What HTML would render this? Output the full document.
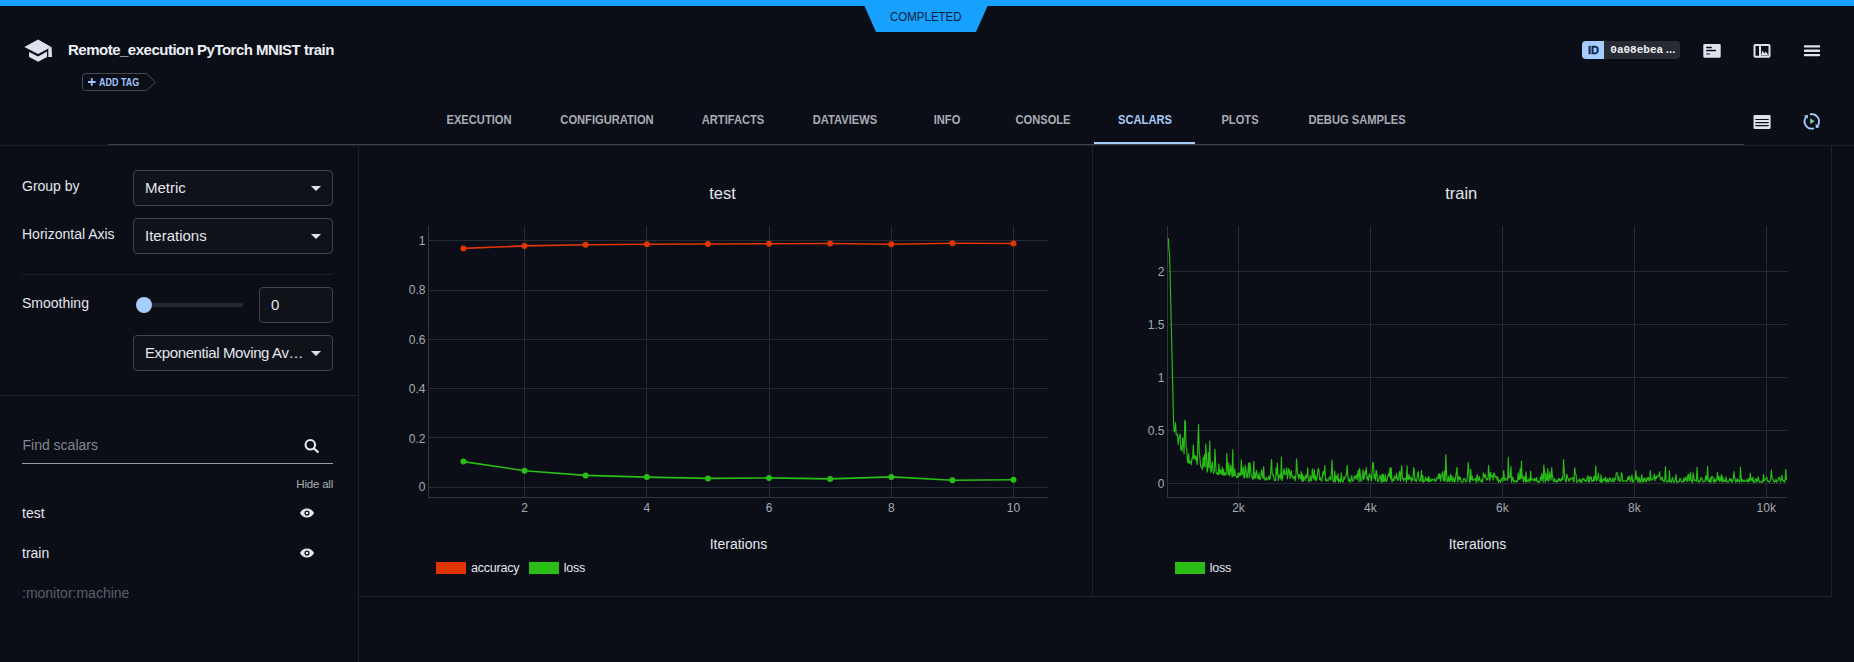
<!DOCTYPE html>
<html><head><meta charset="utf-8">
<style>
html,body{margin:0;padding:0;}
body{width:1854px;height:662px;overflow:hidden;background:#0b0e16;position:relative;font-family:"Liberation Sans",sans-serif;}
.abs{position:absolute;}
.t{position:absolute;white-space:nowrap;line-height:1.15;}
.tab{font-size:12.6px;font-weight:bold;text-align:center;line-height:14px;transform:scaleX(0.885);}
.dd{border:1px solid #41444d;border-radius:4px;background:#0f1219;}
.ylab{width:60px;text-align:right;font-size:12px;color:#a7aab3;line-height:14px;}
.xlab{width:60px;text-align:center;font-size:12px;color:#a7aab3;line-height:14px;}
</style></head><body>
<svg class="abs" style="left:0;top:0" width="1854" height="40">
<rect x="0" y="0" width="1854" height="6" fill="#16a1ff"/>
<polygon points="864,5 988,5 976,32 876,32" fill="#16a1ff"/>
</svg>
<div class="t" style="left:889.8px;top:9.6px;font-size:12.6px;font-weight:normal;color:#0e2036;transform:scaleX(0.913);transform-origin:0 0">COMPLETED</div>
<svg class="abs" style="left:0;top:0" width="60" height="70">
<polygon points="24.3,47.1 38.1,39.4 51.3,46.9 38.1,54.1" fill="#dfe1ec"/>
<polygon points="48.3,48.6 51.6,46.8 52,56.9 48.3,56.9" fill="#dfe1ec"/>
<polygon points="29.1,51.9 38.1,56.4 47,51.6 47,56.9 38.1,61.8 29.1,56.9" fill="#dfe1ec"/>
</svg>
<div class="t" style="left:68px;top:41.2px;font-size:15px;font-weight:bold;color:#eceef4;letter-spacing:-0.5px">Remote_execution PyTorch MNIST train</div>
<svg class="abs" style="left:0;top:0" width="200" height="100">
<path d="M85.5,73.5 H146.5 L155.5,82.2 L146.5,90.5 H85.5 Q82.5,90.5 82.5,87.5 V76.5 Q82.5,73.5 85.5,73.5 Z" fill="none" stroke="#464952" stroke-width="1"/>
<path d="M91.8,78.3 V85.8 M88,82 H95.6" stroke="#9fc3ff" stroke-width="1.8"/>
</svg>
<div class="t" style="left:98.9px;top:77px;font-size:10px;font-weight:bold;color:#9fc3ff;transform:scaleX(0.9);transform-origin:left">ADD TAG</div>
<div class="abs" style="left:1582px;top:41px;width:98px;height:18px;background:#282b34;border-radius:4px"></div>
<div class="abs" style="left:1582px;top:41px;width:22px;height:18px;background:#a6cdff;border-radius:4px 0 0 4px"></div>
<div class="t" style="left:1588px;top:43.9px;font-size:11px;font-weight:bold;color:#0b2a4d;-webkit-text-stroke:0.35px #0b2a4d">ID</div>
<div class="t" style="left:1610.3px;top:44.2px;font-size:11px;font-weight:bold;color:#eef0f5;font-family:'Liberation Mono',monospace">0a08ebea<span style='letter-spacing:-3.4px;margin-left:1px'>...</span></div>
<svg class="abs" style="left:1690px;top:30px" width="164" height="110">
<g transform="translate(-1690,-30)">
<rect x="1703.3" y="44" width="17.4" height="13.7" rx="1.1" fill="#dfe1ec"/>
<path d="M1706.8,47.4 H1711.2 M1706.8,50.6 H1715.4" stroke="#0b0e16" stroke-width="1.5" stroke-linecap="round"/><path d="M1706.8,54 H1709.4" stroke="#3f5d74" stroke-width="1.5" stroke-linecap="round"/>
<rect x="1754.5" y="45" width="15" height="11.7" rx="0.8" fill="none" stroke="#dfe1ec" stroke-width="2"/>
<rect x="1759" y="45" width="2" height="12" fill="#dfe1ec"/>
<path d="M1761,55.4 L1762.5,50.5 L1764.3,53.5 L1765.7,51.5 L1768.5,55.4 Z" fill="#dfe1ec"/>
<path d="M1805,46.4 H1819 M1805,50.8 H1819 M1805,55.1 H1819" stroke="#dfe1ec" stroke-width="2.4" stroke-linecap="round"/>
<rect x="1753.5" y="114.9" width="17.1" height="14" rx="1.1" fill="#dfe1ec"/>
<path d="M1755.4,119.5 H1768.7 M1755.4,122.6 H1768.7 M1755.4,125.7 H1768.7" stroke="#0b0e16" stroke-width="1.2"/>
<path d="M1809.82,114.48 A7.2,7.2 0 0 1 1817.70,125.53" fill="none" stroke="#a6cdff" stroke-width="1.8"/>
<path d="M1814.02,128.25 A7.2,7.2 0 0 1 1805.90,117.27" fill="none" stroke="#a6cdff" stroke-width="1.8"/>
<polygon points="1819.83,127.02 1815.57,124.04 1815.86,128.15" fill="#a6cdff"/>
<polygon points="1803.77,115.78 1808.03,118.76 1807.74,114.65" fill="#a6cdff"/>
<polygon points="1810.2,118.3 1814.7,121.2 1810.2,124.1" fill="#68d9b4"/>
</g>
</svg>
<div class="t tab" style="left:379.3px;top:112.5px;width:200px;color:#a9acb4">EXECUTION</div>
<div class="t tab" style="left:506.79999999999995px;top:112.5px;width:200px;color:#a9acb4">CONFIGURATION</div>
<div class="t tab" style="left:633.2px;top:112.5px;width:200px;color:#a9acb4">ARTIFACTS</div>
<div class="t tab" style="left:745px;top:112.5px;width:200px;color:#a9acb4">DATAVIEWS</div>
<div class="t tab" style="left:846.7px;top:112.5px;width:200px;color:#a9acb4">INFO</div>
<div class="t tab" style="left:942.9000000000001px;top:112.5px;width:200px;color:#a9acb4">CONSOLE</div>
<div class="t tab" style="left:1044.6px;top:112.5px;width:200px;color:#a6cdfb">SCALARS</div>
<div class="t tab" style="left:1140.2px;top:112.5px;width:200px;color:#a9acb4">PLOTS</div>
<div class="t tab" style="left:1257.3px;top:112.5px;width:200px;color:#a9acb4">DEBUG SAMPLES</div>
<div class="abs" style="left:108px;top:144px;width:1636px;height:1px;background:#3d404a"></div>
<div class="abs" style="left:1094px;top:142px;width:101px;height:2px;background:#a6cdfb"></div>
<div class="abs" style="left:0;top:145px;width:1854px;height:1px;background:#1e2129"></div>
<div class="abs" style="left:358px;top:146px;width:1px;height:516px;background:#1e2129"></div>
<div class="abs" style="left:1092px;top:146px;width:1px;height:450px;background:#1e2129"></div>
<div class="abs" style="left:1831px;top:146px;width:1px;height:450px;background:#1e2129"></div>
<div class="abs" style="left:359px;top:596px;width:1473px;height:1px;background:#1e2129"></div>
<div class="abs" style="left:22px;top:274px;width:311px;height:1px;background:#1e2129"></div>
<div class="abs" style="left:0;top:395px;width:358px;height:1px;background:#1e2129"></div>
<div class="t" style="left:22px;top:178px;font-size:14px;font-weight:normal;color:#e4e6ee;">Group by</div>
<div class="t" style="left:22px;top:226px;font-size:14px;font-weight:normal;color:#e4e6ee;">Horizontal Axis</div>
<div class="t" style="left:22px;top:295px;font-size:14px;font-weight:normal;color:#e4e6ee;">Smoothing</div>
<div class="abs dd" style="left:133px;top:170px;width:198px;height:34px"></div><div class="t" style="left:145px;top:179px;font-size:15px;font-weight:normal;color:#e4e6ee;">Metric</div><svg class="abs" style="left:310px;top:185px" width="12" height="8"><polygon points="1,1 11,1 6,6" fill="#dfe1ec"/></svg>
<div class="abs dd" style="left:133px;top:218px;width:198px;height:34px"></div><div class="t" style="left:145px;top:227px;font-size:15px;font-weight:normal;color:#e4e6ee;">Iterations</div><svg class="abs" style="left:310px;top:233px" width="12" height="8"><polygon points="1,1 11,1 6,6" fill="#dfe1ec"/></svg>
<div class="abs dd" style="left:133px;top:335px;width:198px;height:34px"></div><div class="t" style="left:145px;top:344px;font-size:15px;font-weight:normal;color:#e4e6ee;letter-spacing:-0.38px">Exponential Moving Av…</div><svg class="abs" style="left:310px;top:350px" width="12" height="8"><polygon points="1,1 11,1 6,6" fill="#dfe1ec"/></svg>
<div class="abs" style="left:144px;top:303px;width:99px;height:4px;background:#262932;border-radius:2px"></div>
<div class="abs" style="left:136px;top:297px;width:16px;height:16px;background:#a6cdff;border-radius:50%"></div>
<div class="abs dd" style="left:259px;top:287px;width:72px;height:34px"></div>
<div class="t" style="left:271px;top:296px;font-size:15px;font-weight:normal;color:#e4e6ee;">0</div>
<div class="t" style="left:22.5px;top:437.2px;font-size:14px;font-weight:normal;color:#82858e;">Find scalars</div>
<div class="abs" style="left:22px;top:463px;width:311px;height:1px;background:#9a9da6"></div>
<svg class="abs" style="left:300px;top:436px" width="22" height="22">
<circle cx="10.3" cy="8.8" r="4.75" fill="none" stroke="#e8eaf0" stroke-width="2.1"/>
<path d="M14,12.5 L17.8,15.9" stroke="#e8eaf0" stroke-width="2.2" stroke-linecap="round"/>
</svg>
<div class="t" style="left:296.3px;top:477.8px;font-size:11.5px;font-weight:normal;color:#a9acb4;letter-spacing:-0.2px">Hide all</div>
<div class="t" style="left:22px;top:505px;font-size:14px;font-weight:normal;color:#e4e6ee;">test</div>
<div class="t" style="left:22px;top:545px;font-size:14px;font-weight:normal;color:#e4e6ee;">train</div>
<div class="t" style="left:22px;top:585px;font-size:14px;font-weight:normal;color:#5c5f68;">:monitor:machine</div>
<svg class="abs" style="left:298px;top:506px" width="18" height="14">
<g transform="translate(1.37,-0.2) scale(0.636,0.6)"><path d="M12 4.5C7 4.5 2.73 7.61 1 12c1.73 4.39 6 7.5 11 7.5s9.27-3.11 11-7.5c-1.73-4.39-6-7.5-11-7.5z" fill="#e4e6ee"/></g>
<circle cx="9" cy="7" r="2.55" fill="#0b0e16"/><circle cx="9" cy="7" r="1.25" fill="#eef0f5"/>
</svg>
<svg class="abs" style="left:298px;top:546px" width="18" height="14">
<g transform="translate(1.37,-0.2) scale(0.636,0.6)"><path d="M12 4.5C7 4.5 2.73 7.61 1 12c1.73 4.39 6 7.5 11 7.5s9.27-3.11 11-7.5c-1.73-4.39-6-7.5-11-7.5z" fill="#e4e6ee"/></g>
<circle cx="9" cy="7" r="2.55" fill="#0b0e16"/><circle cx="9" cy="7" r="1.25" fill="#eef0f5"/>
</svg>
<svg class="abs" style="left:0;top:0" width="1100" height="600">
<line x1="428" x2="1048" y1="487.5" y2="487.5" stroke="#262a33" stroke-width="1"/>
<line x1="428" x2="1048" y1="437.5" y2="437.5" stroke="#262a33" stroke-width="1"/>
<line x1="428" x2="1048" y1="388.5" y2="388.5" stroke="#262a33" stroke-width="1"/>
<line x1="428" x2="1048" y1="339.5" y2="339.5" stroke="#262a33" stroke-width="1"/>
<line x1="428" x2="1048" y1="290.5" y2="290.5" stroke="#262a33" stroke-width="1"/>
<line x1="428" x2="1048" y1="240.5" y2="240.5" stroke="#262a33" stroke-width="1"/>
<line x1="524.5" x2="524.5" y1="226" y2="497" stroke="#262a33" stroke-width="1"/>
<line x1="646.5" x2="646.5" y1="226" y2="497" stroke="#262a33" stroke-width="1"/>
<line x1="769.5" x2="769.5" y1="226" y2="497" stroke="#262a33" stroke-width="1"/>
<line x1="891.5" x2="891.5" y1="226" y2="497" stroke="#262a33" stroke-width="1"/>
<line x1="1013.5" x2="1013.5" y1="226" y2="497" stroke="#262a33" stroke-width="1"/>
<line x1="428.5" x2="428.5" y1="226" y2="498" stroke="#31343d" stroke-width="1"/>
<line x1="428" x2="1048" y1="497.5" y2="497.5" stroke="#31343d" stroke-width="1"/>
<polyline points="463.4,248.4 524.5,245.9 585.6,244.7 646.8,244.2 707.9,244.0 769.0,243.7 830.1,243.5 891.3,244.2 952.4,243.2 1013.5,243.5" fill="none" stroke="#e23505" stroke-width="1.6"/>
<circle cx="463.4" cy="248.4" r="3" fill="#e23505"/>
<circle cx="524.5" cy="245.9" r="3" fill="#e23505"/>
<circle cx="585.6" cy="244.7" r="3" fill="#e23505"/>
<circle cx="646.8" cy="244.2" r="3" fill="#e23505"/>
<circle cx="707.9" cy="244.0" r="3" fill="#e23505"/>
<circle cx="769.0" cy="243.7" r="3" fill="#e23505"/>
<circle cx="830.1" cy="243.5" r="3" fill="#e23505"/>
<circle cx="891.3" cy="244.2" r="3" fill="#e23505"/>
<circle cx="952.4" cy="243.2" r="3" fill="#e23505"/>
<circle cx="1013.5" cy="243.5" r="3" fill="#e23505"/>
<polyline points="463.4,461.6 524.5,470.7 585.6,475.4 646.8,477.1 707.9,478.4 769.0,477.9 830.1,478.9 891.3,476.9 952.4,480.3 1013.5,479.8" fill="none" stroke="#29bd16" stroke-width="1.6"/>
<circle cx="463.4" cy="461.6" r="3" fill="#29bd16"/>
<circle cx="524.5" cy="470.7" r="3" fill="#29bd16"/>
<circle cx="585.6" cy="475.4" r="3" fill="#29bd16"/>
<circle cx="646.8" cy="477.1" r="3" fill="#29bd16"/>
<circle cx="707.9" cy="478.4" r="3" fill="#29bd16"/>
<circle cx="769.0" cy="477.9" r="3" fill="#29bd16"/>
<circle cx="830.1" cy="478.9" r="3" fill="#29bd16"/>
<circle cx="891.3" cy="476.9" r="3" fill="#29bd16"/>
<circle cx="952.4" cy="480.3" r="3" fill="#29bd16"/>
<circle cx="1013.5" cy="479.8" r="3" fill="#29bd16"/>
</svg>
<div class="t ylab" style="left:365.5px;top:479.9px">0</div>
<div class="t ylab" style="left:365.5px;top:431.5px">0.2</div>
<div class="t ylab" style="left:365.5px;top:381.5px">0.4</div>
<div class="t ylab" style="left:365.5px;top:333.0px">0.6</div>
<div class="t ylab" style="left:365.5px;top:283.3px">0.8</div>
<div class="t ylab" style="left:365.5px;top:234.1px">1</div>
<div class="t xlab" style="left:494.525px;top:500.8px">2</div>
<div class="t xlab" style="left:616.775px;top:500.8px">4</div>
<div class="t xlab" style="left:739.025px;top:500.8px">6</div>
<div class="t xlab" style="left:861.275px;top:500.8px">8</div>
<div class="t xlab" style="left:983.525px;top:500.8px">10</div>
<div class="t" style="left:682.6px;top:183.8px;font-size:16.5px;font-weight:normal;color:#e4e6ee;width:80px;text-align:center">test</div>
<div class="t" style="left:698.5px;top:536px;font-size:14px;font-weight:normal;color:#e4e6ee;width:80px;text-align:center">Iterations</div>
<div class="abs" style="left:436px;top:561.5px;width:30px;height:12px;background:#e23505"></div>
<div class="t" style="left:471px;top:561.3px;font-size:12.5px;font-weight:normal;color:#e4e6ee;letter-spacing:-0.2px">accuracy</div>
<div class="abs" style="left:529px;top:561.5px;width:30px;height:12px;background:#29bd16"></div>
<div class="t" style="left:563.7px;top:561.3px;font-size:12.5px;font-weight:normal;color:#e4e6ee;letter-spacing:-0.2px">loss</div>
<svg class="abs" style="left:1100px;top:0" width="754" height="600"><g transform="translate(-1100,0)">
<line x1="1167" x2="1787" y1="483.5" y2="483.5" stroke="#262a33" stroke-width="1"/>
<line x1="1167" x2="1787" y1="430.5" y2="430.5" stroke="#262a33" stroke-width="1"/>
<line x1="1167" x2="1787" y1="377.5" y2="377.5" stroke="#262a33" stroke-width="1"/>
<line x1="1167" x2="1787" y1="324.5" y2="324.5" stroke="#262a33" stroke-width="1"/>
<line x1="1167" x2="1787" y1="271.5" y2="271.5" stroke="#262a33" stroke-width="1"/>
<line x1="1238.5" x2="1238.5" y1="226" y2="497" stroke="#262a33" stroke-width="1"/>
<line x1="1370.5" x2="1370.5" y1="226" y2="497" stroke="#262a33" stroke-width="1"/>
<line x1="1502.5" x2="1502.5" y1="226" y2="497" stroke="#262a33" stroke-width="1"/>
<line x1="1634.5" x2="1634.5" y1="226" y2="497" stroke="#262a33" stroke-width="1"/>
<line x1="1766.5" x2="1766.5" y1="226" y2="497" stroke="#262a33" stroke-width="1"/>
<line x1="1167.5" x2="1167.5" y1="226" y2="498" stroke="#31343d" stroke-width="1"/>
<line x1="1167" x2="1787" y1="497.5" y2="497.5" stroke="#31343d" stroke-width="1"/>
<polyline points="1168.30,238.14 1168.96,249.80 1169.62,254.69 1170.27,282.57 1170.93,310.46 1171.59,338.34 1172.25,366.23 1172.90,394.11 1173.56,422.00 1174.22,432.05 1174.88,430.45 1175.53,422.52 1176.19,435.05 1176.85,435.09 1177.51,434.29 1178.16,444.55 1178.82,438.07 1179.48,436.47 1180.14,433.98 1180.80,449.65 1181.45,446.08 1182.11,451.13 1182.77,437.70 1183.43,440.88 1184.08,454.01 1184.74,420.41 1185.40,421.71 1186.06,446.83 1186.71,449.02 1187.37,460.35 1188.03,462.88 1188.69,453.70 1189.35,463.09 1190.00,461.62 1190.66,461.23 1191.32,464.62 1191.98,458.00 1192.63,458.97 1193.29,445.09 1193.95,458.21 1194.61,455.51 1195.26,459.56 1195.92,455.87 1196.58,461.26 1197.24,464.55 1197.89,440.84 1198.55,424.56 1199.21,451.04 1199.87,457.32 1200.53,465.79 1201.18,467.23 1201.84,466.81 1202.50,469.57 1203.16,457.41 1203.81,466.22 1204.47,454.52 1205.13,467.03 1205.79,444.19 1206.44,455.74 1207.10,472.00 1207.76,470.27 1208.42,452.51 1209.07,467.47 1209.73,441.01 1210.39,469.01 1211.05,472.68 1211.71,465.65 1212.36,461.90 1213.02,471.41 1213.68,473.32 1214.34,471.13 1214.99,449.35 1215.65,463.95 1216.31,473.76 1216.97,472.77 1217.62,474.22 1218.28,474.70 1218.94,463.89 1219.60,474.04 1220.26,469.80 1220.91,471.56 1221.57,474.36 1222.23,466.91 1222.89,475.12 1223.54,469.21 1224.20,475.48 1224.86,472.78 1225.52,474.95 1226.17,474.58 1226.83,453.61 1227.49,466.29 1228.15,474.62 1228.80,463.18 1229.46,475.65 1230.12,474.07 1230.78,465.20 1231.44,471.00 1232.09,476.86 1232.75,449.47 1233.41,476.21 1234.07,475.94 1234.72,468.81 1235.38,475.51 1236.04,475.89 1236.70,477.63 1237.35,477.59 1238.01,473.02 1238.67,476.65 1239.33,472.93 1239.98,475.70 1240.64,474.96 1241.30,459.90 1241.96,474.78 1242.62,473.74 1243.27,467.12 1243.93,477.65 1244.59,477.91 1245.25,465.26 1245.90,469.28 1246.56,477.41 1247.22,477.90 1247.88,471.55 1248.53,463.32 1249.19,478.02 1249.85,462.51 1250.51,467.40 1251.17,474.24 1251.82,476.40 1252.48,478.88 1253.14,479.31 1253.80,461.42 1254.45,478.12 1255.11,472.96 1255.77,478.08 1256.43,470.24 1257.08,474.82 1257.74,477.93 1258.40,478.82 1259.06,472.97 1259.71,479.56 1260.37,478.58 1261.03,475.58 1261.69,469.69 1262.35,474.94 1263.00,478.35 1263.66,466.70 1264.32,478.97 1264.98,480.15 1265.63,478.58 1266.29,477.13 1266.95,480.00 1267.61,479.33 1268.26,477.93 1268.92,475.87 1269.58,479.71 1270.24,478.08 1270.89,468.64 1271.55,459.45 1272.21,474.85 1272.87,474.32 1273.53,475.94 1274.18,479.86 1274.84,480.51 1275.50,480.63 1276.16,467.85 1276.81,474.32 1277.47,463.18 1278.13,480.72 1278.79,475.45 1279.44,477.36 1280.10,473.89 1280.76,478.89 1281.42,457.12 1282.08,480.58 1282.73,476.78 1283.39,473.87 1284.05,468.69 1284.71,473.91 1285.36,474.58 1286.02,472.66 1286.68,467.90 1287.34,478.86 1287.99,474.99 1288.65,468.77 1289.31,470.21 1289.97,478.37 1290.62,472.86 1291.28,470.56 1291.94,476.75 1292.60,476.06 1293.26,478.79 1293.91,476.68 1294.57,476.35 1295.23,481.01 1295.89,475.94 1296.54,458.72 1297.20,469.98 1297.86,474.44 1298.52,478.89 1299.17,474.33 1299.83,476.86 1300.49,478.45 1301.15,471.67 1301.80,481.19 1302.46,474.08 1303.12,481.55 1303.78,476.68 1304.44,478.14 1305.09,480.33 1305.75,475.18 1306.41,478.01 1307.07,476.56 1307.72,467.83 1308.38,480.24 1309.04,481.83 1309.70,479.92 1310.35,475.62 1311.01,480.69 1311.67,480.93 1312.33,468.80 1312.99,475.98 1313.64,478.76 1314.30,469.59 1314.96,479.84 1315.62,475.92 1316.27,480.86 1316.93,478.94 1317.59,472.89 1318.25,468.29 1318.90,470.20 1319.56,479.43 1320.22,477.25 1320.88,480.03 1321.53,481.34 1322.19,478.33 1322.85,472.04 1323.51,471.65 1324.17,475.26 1324.82,465.54 1325.48,480.38 1326.14,481.15 1326.80,478.86 1327.45,480.40 1328.11,480.85 1328.77,479.24 1329.43,476.78 1330.08,478.45 1330.74,480.11 1331.40,472.20 1332.06,460.25 1332.71,478.90 1333.37,481.76 1334.03,482.01 1334.69,471.00 1335.35,481.96 1336.00,475.52 1336.66,477.63 1337.32,480.20 1337.98,473.75 1338.63,482.09 1339.29,481.41 1339.95,478.95 1340.61,482.07 1341.26,472.74 1341.92,480.75 1342.58,481.39 1343.24,481.95 1343.90,476.93 1344.55,479.07 1345.21,476.94 1345.87,476.57 1346.53,473.50 1347.18,465.41 1347.84,476.13 1348.50,481.04 1349.16,478.82 1349.81,481.18 1350.47,482.16 1351.13,478.87 1351.79,475.67 1352.44,481.19 1353.10,480.56 1353.76,480.01 1354.42,476.00 1355.08,478.40 1355.73,477.28 1356.39,474.91 1357.05,479.64 1357.71,474.11 1358.36,470.00 1359.02,481.76 1359.68,468.33 1360.34,475.64 1360.99,481.52 1361.65,479.13 1362.31,477.20 1362.97,469.91 1363.62,479.82 1364.28,477.94 1364.94,471.45 1365.60,474.12 1366.26,467.55 1366.91,479.07 1367.57,476.89 1368.23,481.08 1368.89,475.76 1369.54,473.62 1370.20,477.06 1370.86,475.87 1371.52,481.04 1372.17,470.66 1372.83,462.46 1373.49,463.23 1374.15,478.39 1374.81,474.42 1375.46,480.32 1376.12,470.22 1376.78,472.59 1377.44,480.12 1378.09,481.83 1378.75,479.37 1379.41,478.29 1380.07,475.01 1380.72,478.95 1381.38,482.12 1382.04,474.07 1382.70,481.94 1383.35,474.33 1384.01,481.33 1384.67,480.26 1385.33,474.64 1385.99,481.52 1386.64,481.48 1387.30,478.71 1387.96,475.98 1388.62,473.32 1389.27,476.56 1389.93,468.06 1390.59,478.97 1391.25,467.78 1391.90,481.84 1392.56,481.06 1393.22,478.65 1393.88,480.62 1394.53,475.96 1395.19,477.36 1395.85,478.71 1396.51,473.34 1397.17,478.33 1397.82,480.48 1398.48,479.98 1399.14,473.33 1399.80,471.22 1400.45,481.17 1401.11,473.19 1401.77,465.78 1402.43,478.74 1403.08,478.23 1403.74,481.22 1404.40,478.64 1405.06,478.97 1405.72,477.88 1406.37,482.16 1407.03,465.78 1407.69,478.86 1408.35,479.88 1409.00,474.67 1409.66,478.39 1410.32,479.12 1410.98,476.77 1411.63,481.98 1412.29,478.67 1412.95,479.79 1413.61,467.58 1414.26,470.28 1414.92,480.84 1415.58,479.31 1416.24,481.67 1416.90,479.65 1417.55,474.43 1418.21,471.57 1418.87,479.30 1419.53,480.54 1420.18,481.32 1420.84,477.85 1421.50,470.31 1422.16,481.67 1422.81,475.34 1423.47,482.20 1424.13,481.32 1424.79,481.13 1425.44,476.98 1426.10,480.53 1426.76,480.30 1427.42,477.89 1428.08,481.81 1428.73,476.32 1429.39,481.72 1430.05,479.06 1430.71,481.00 1431.36,481.32 1432.02,478.88 1432.68,479.71 1433.34,480.18 1433.99,479.90 1434.65,478.91 1435.31,481.54 1435.97,481.29 1436.63,477.82 1437.28,477.74 1437.94,478.93 1438.60,473.75 1439.26,478.08 1439.91,473.60 1440.57,481.14 1441.23,476.28 1441.89,474.88 1442.54,471.91 1443.20,480.64 1443.86,480.64 1444.52,470.91 1445.17,481.24 1445.83,454.87 1446.49,472.62 1447.15,481.70 1447.81,481.12 1448.46,476.59 1449.12,481.01 1449.78,481.89 1450.44,474.45 1451.09,479.92 1451.75,475.46 1452.41,481.75 1453.07,480.07 1453.72,477.26 1454.38,482.27 1455.04,481.36 1455.70,477.32 1456.35,471.73 1457.01,467.24 1457.67,481.81 1458.33,479.27 1458.99,476.16 1459.64,479.30 1460.30,477.31 1460.96,481.44 1461.62,482.03 1462.27,481.86 1462.93,482.19 1463.59,478.88 1464.25,479.22 1464.90,478.72 1465.56,481.67 1466.22,481.48 1466.88,481.37 1467.54,474.46 1468.19,462.41 1468.85,471.11 1469.51,481.93 1470.17,482.08 1470.82,469.39 1471.48,479.71 1472.14,476.17 1472.80,480.67 1473.45,479.68 1474.11,479.27 1474.77,479.97 1475.43,478.45 1476.08,482.31 1476.74,477.24 1477.40,474.47 1478.06,481.52 1478.72,479.80 1479.37,476.68 1480.03,480.17 1480.69,481.45 1481.35,481.61 1482.00,479.34 1482.66,482.31 1483.32,472.96 1483.98,475.57 1484.63,477.25 1485.29,474.10 1485.95,478.21 1486.61,480.20 1487.26,478.54 1487.92,479.44 1488.58,465.43 1489.24,475.56 1489.90,481.13 1490.55,472.29 1491.21,476.70 1491.87,476.12 1492.53,475.38 1493.18,480.22 1493.84,472.97 1494.50,473.60 1495.16,477.47 1495.81,476.35 1496.47,476.40 1497.13,480.24 1497.79,477.10 1498.45,482.08 1499.10,480.66 1499.76,479.78 1500.42,482.34 1501.08,480.58 1501.73,478.21 1502.39,478.38 1503.05,481.31 1503.71,470.55 1504.36,477.91 1505.02,480.71 1505.68,477.99 1506.34,478.96 1506.99,479.29 1507.65,480.38 1508.31,457.31 1508.97,478.22 1509.63,477.49 1510.28,476.58 1510.94,466.54 1511.60,482.30 1512.26,478.53 1512.91,476.98 1513.57,481.20 1514.23,480.33 1514.89,482.19 1515.54,481.52 1516.20,480.51 1516.86,481.98 1517.52,481.24 1518.17,472.94 1518.83,479.20 1519.49,479.56 1520.15,468.74 1520.81,479.05 1521.46,461.17 1522.12,478.35 1522.78,475.80 1523.44,482.09 1524.09,478.78 1524.75,476.75 1525.41,482.22 1526.07,471.85 1526.72,481.72 1527.38,479.88 1528.04,481.68 1528.70,479.70 1529.36,478.68 1530.01,482.17 1530.67,470.95 1531.33,480.26 1531.99,479.47 1532.64,478.83 1533.30,480.62 1533.96,481.09 1534.62,478.24 1535.27,479.19 1535.93,481.11 1536.59,477.48 1537.25,481.04 1537.90,482.36 1538.56,481.32 1539.22,482.25 1539.88,481.75 1540.54,476.95 1541.19,480.50 1541.85,473.56 1542.51,477.06 1543.17,482.22 1543.82,465.01 1544.48,471.22 1545.14,482.13 1545.80,473.29 1546.45,480.25 1547.11,479.92 1547.77,468.46 1548.43,481.35 1549.08,479.57 1549.74,471.77 1550.40,477.49 1551.06,480.00 1551.72,467.63 1552.37,475.92 1553.03,478.88 1553.69,481.96 1554.35,478.68 1555.00,480.10 1555.66,481.56 1556.32,482.23 1556.98,479.57 1557.63,481.92 1558.29,480.20 1558.95,478.24 1559.61,480.12 1560.27,481.28 1560.92,479.12 1561.58,480.37 1562.24,476.73 1562.90,479.57 1563.55,459.56 1564.21,470.91 1564.87,477.43 1565.53,481.41 1566.18,481.98 1566.84,474.03 1567.50,476.66 1568.16,478.75 1568.81,480.77 1569.47,481.25 1570.13,478.10 1570.79,479.32 1571.45,479.08 1572.10,478.69 1572.76,477.20 1573.42,481.65 1574.08,481.37 1574.73,467.89 1575.39,473.22 1576.05,474.58 1576.71,482.29 1577.36,482.21 1578.02,481.27 1578.68,480.39 1579.34,478.82 1579.99,482.04 1580.65,479.55 1581.31,482.17 1581.97,482.11 1582.63,478.28 1583.28,479.49 1583.94,478.77 1584.60,480.73 1585.26,480.05 1585.91,481.58 1586.57,480.90 1587.23,477.43 1587.89,475.75 1588.54,482.17 1589.20,481.98 1589.86,476.38 1590.52,478.87 1591.18,477.09 1591.83,481.58 1592.49,480.43 1593.15,481.36 1593.81,476.39 1594.46,480.78 1595.12,478.59 1595.78,465.97 1596.44,481.02 1597.09,479.56 1597.75,477.48 1598.41,473.25 1599.07,480.43 1599.72,480.79 1600.38,482.09 1601.04,474.92 1601.70,482.16 1602.36,482.15 1603.01,479.46 1603.67,480.07 1604.33,478.29 1604.99,481.18 1605.64,477.08 1606.30,482.18 1606.96,481.60 1607.62,478.56 1608.27,482.16 1608.93,481.16 1609.59,477.83 1610.25,478.22 1610.90,481.27 1611.56,481.91 1612.22,480.88 1612.88,477.84 1613.54,480.84 1614.19,482.02 1614.85,478.06 1615.51,479.47 1616.17,473.54 1616.82,472.46 1617.48,473.77 1618.14,480.42 1618.80,476.70 1619.45,481.18 1620.11,481.12 1620.77,480.66 1621.43,472.81 1622.09,474.51 1622.74,481.46 1623.40,480.89 1624.06,480.87 1624.72,480.88 1625.37,480.70 1626.03,480.75 1626.69,481.71 1627.35,479.56 1628.00,476.87 1628.66,479.74 1629.32,476.12 1629.98,479.57 1630.63,481.79 1631.29,477.49 1631.95,475.03 1632.61,481.32 1633.27,482.36 1633.92,479.95 1634.58,479.74 1635.24,479.55 1635.90,470.65 1636.55,478.81 1637.21,476.80 1637.87,482.25 1638.53,479.73 1639.18,477.09 1639.84,482.18 1640.50,482.19 1641.16,477.85 1641.81,474.54 1642.47,482.18 1643.13,479.00 1643.79,481.95 1644.45,477.75 1645.10,478.87 1645.76,481.51 1646.42,481.63 1647.08,477.49 1647.73,479.95 1648.39,477.51 1649.05,480.76 1649.71,481.07 1650.36,470.63 1651.02,478.66 1651.68,480.15 1652.34,479.85 1653.00,478.12 1653.65,478.27 1654.31,474.05 1654.97,480.68 1655.63,476.51 1656.28,478.74 1656.94,475.93 1657.60,476.90 1658.26,476.37 1658.91,475.01 1659.57,471.72 1660.23,479.01 1660.89,479.97 1661.54,478.29 1662.20,476.99 1662.86,480.64 1663.52,480.64 1664.18,481.96 1664.83,477.92 1665.49,466.55 1666.15,480.90 1666.81,481.87 1667.46,481.72 1668.12,480.63 1668.78,481.33 1669.44,470.70 1670.09,482.29 1670.75,481.26 1671.41,482.09 1672.07,478.99 1672.72,477.47 1673.38,481.83 1674.04,482.28 1674.70,480.44 1675.36,479.56 1676.01,474.46 1676.67,482.36 1677.33,482.12 1677.99,481.82 1678.64,481.68 1679.30,481.60 1679.96,478.29 1680.62,479.49 1681.27,481.66 1681.93,481.82 1682.59,481.40 1683.25,481.87 1683.91,477.79 1684.56,481.26 1685.22,479.86 1685.88,476.86 1686.54,480.34 1687.19,481.50 1687.85,475.27 1688.51,474.37 1689.17,481.12 1689.82,479.88 1690.48,472.10 1691.14,480.33 1691.80,481.68 1692.45,482.34 1693.11,472.79 1693.77,477.18 1694.43,480.91 1695.09,480.04 1695.74,480.12 1696.40,481.45 1697.06,467.30 1697.72,478.99 1698.37,481.62 1699.03,482.36 1699.69,480.41 1700.35,480.99 1701.00,477.29 1701.66,478.42 1702.32,479.46 1702.98,481.95 1703.63,481.95 1704.29,481.24 1704.95,481.53 1705.61,475.88 1706.27,480.15 1706.92,479.21 1707.58,466.31 1708.24,481.51 1708.90,480.03 1709.55,481.98 1710.21,477.74 1710.87,482.36 1711.53,476.93 1712.18,476.45 1712.84,476.92 1713.50,482.24 1714.16,481.50 1714.82,478.44 1715.47,482.19 1716.13,480.40 1716.79,480.48 1717.45,472.47 1718.10,479.67 1718.76,476.24 1719.42,481.35 1720.08,477.50 1720.73,480.78 1721.39,474.52 1722.05,482.21 1722.71,476.90 1723.36,481.77 1724.02,480.00 1724.68,480.13 1725.34,481.97 1726.00,476.81 1726.65,481.33 1727.31,481.33 1727.97,482.27 1728.63,481.36 1729.28,480.51 1729.94,478.51 1730.60,481.10 1731.26,478.82 1731.91,482.17 1732.57,480.93 1733.23,480.55 1733.89,471.67 1734.54,476.89 1735.20,479.15 1735.86,482.36 1736.52,481.02 1737.18,478.60 1737.83,481.67 1738.49,479.89 1739.15,480.58 1739.81,482.36 1740.46,467.39 1741.12,477.44 1741.78,481.79 1742.44,479.50 1743.09,481.44 1743.75,481.04 1744.41,480.08 1745.07,481.41 1745.73,481.23 1746.38,480.96 1747.04,479.07 1747.70,481.60 1748.36,481.83 1749.01,478.40 1749.67,481.27 1750.33,473.42 1750.99,479.93 1751.64,478.49 1752.30,481.27 1752.96,477.03 1753.62,482.23 1754.27,482.06 1754.93,482.22 1755.59,478.99 1756.25,478.68 1756.91,481.91 1757.56,480.93 1758.22,476.87 1758.88,479.73 1759.54,482.24 1760.19,481.73 1760.85,482.00 1761.51,482.12 1762.17,480.91 1762.82,482.30 1763.48,474.66 1764.14,480.80 1764.80,480.31 1765.45,479.30 1766.11,478.02 1766.77,477.20 1767.43,481.02 1768.09,481.29 1768.74,480.89 1769.40,482.36 1770.06,480.95 1770.72,478.82 1771.37,470.13 1772.03,477.72 1772.69,479.21 1773.35,479.64 1774.00,482.36 1774.66,481.30 1775.32,481.25 1775.98,479.30 1776.64,482.19 1777.29,481.08 1777.95,480.35 1778.61,477.76 1779.27,477.18 1779.92,479.64 1780.58,482.01 1781.24,478.08 1781.90,475.39 1782.55,480.11 1783.21,481.21 1783.87,480.42 1784.53,482.07 1785.18,478.72 1785.84,469.31 1786.50,480.32" fill="none" stroke="#29bd16" stroke-width="1.15" stroke-linejoin="round"/>
</g></svg>
<div class="t ylab" style="left:1104.5px;top:477.2px">0</div>
<div class="t ylab" style="left:1104.5px;top:424.2px">0.5</div>
<div class="t ylab" style="left:1104.5px;top:371.2px">1</div>
<div class="t ylab" style="left:1104.5px;top:318.2px">1.5</div>
<div class="t ylab" style="left:1104.5px;top:265.2px">2</div>
<div class="t xlab" style="left:1208.5px;top:500.8px">2k</div>
<div class="t xlab" style="left:1340.45px;top:500.8px">4k</div>
<div class="t xlab" style="left:1472.4px;top:500.8px">6k</div>
<div class="t xlab" style="left:1604.35px;top:500.8px">8k</div>
<div class="t xlab" style="left:1736.3px;top:500.8px">10k</div>
<div class="t" style="left:1421.2px;top:183.8px;font-size:16.5px;font-weight:normal;color:#e4e6ee;width:80px;text-align:center">train</div>
<div class="t" style="left:1437.5px;top:536px;font-size:14px;font-weight:normal;color:#e4e6ee;width:80px;text-align:center">Iterations</div>
<div class="abs" style="left:1175px;top:561.5px;width:30px;height:12px;background:#29bd16"></div>
<div class="t" style="left:1209.7px;top:561.3px;font-size:12.5px;font-weight:normal;color:#e4e6ee;letter-spacing:-0.2px">loss</div>
</body></html>
